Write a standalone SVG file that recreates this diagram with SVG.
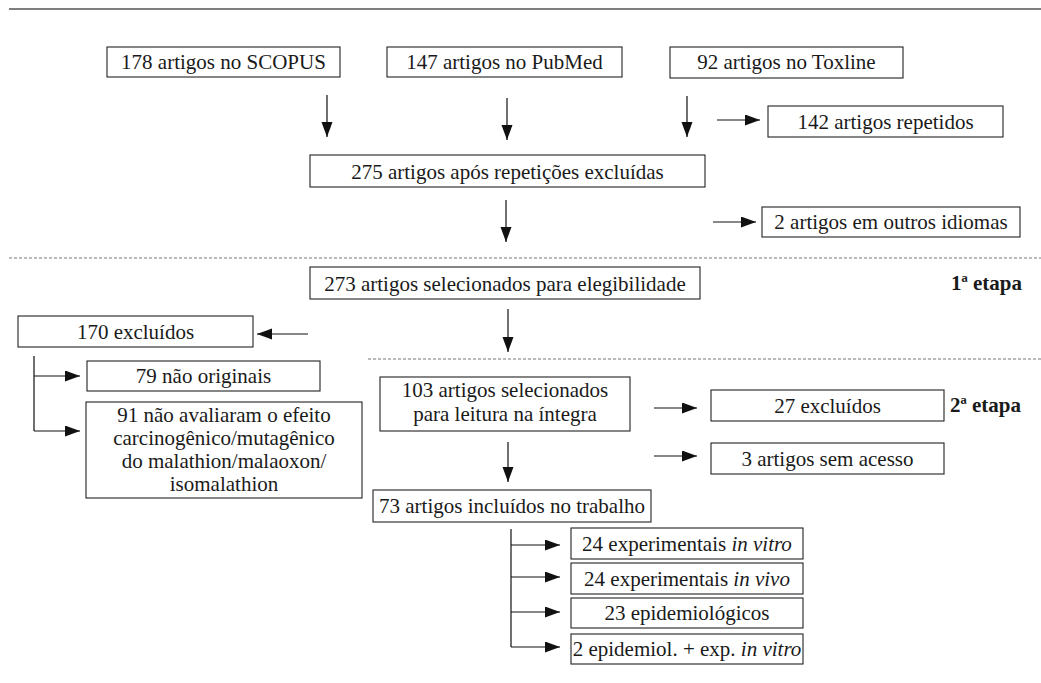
<svg xmlns="http://www.w3.org/2000/svg" width="1041" height="683" viewBox="0 0 1041 683">
<style>
.box{fill:#fff;stroke:#222;stroke-width:1.1}
.t{font-family:"Liberation Serif","Times New Roman",serif;font-size:21px;fill:#1a1a1a;text-anchor:middle}
.lbl{font-family:"Liberation Serif","Times New Roman",serif;font-size:21px;font-weight:bold;fill:#1a1a1a}
.c{stroke:#111;stroke-width:1.2;fill:none}
.ca{stroke:#111;stroke-width:1.2;fill:none;marker-end:url(#ah)}
.dash{stroke:#777;stroke-width:1;stroke-dasharray:3 2;fill:none}
</style>
<defs>
<marker id="ah" markerUnits="userSpaceOnUse" markerWidth="16" markerHeight="12" refX="15" refY="5.5" orient="auto">
<path d="M0,0 L15,5.5 L0,11 Z" fill="#111"/>
</marker>
</defs>
<rect width="1041" height="683" fill="#fff"/>
<line x1="9" y1="9" x2="1041" y2="9" stroke="#555" stroke-width="1.5"/>
<line class="dash" x1="9" y1="258" x2="1041" y2="258"/>
<line class="dash" x1="368" y1="359" x2="1041" y2="359"/>

<g id="connectors">
<line class="ca" x1="327" y1="95" x2="327" y2="137"/>
<line class="ca" x1="507" y1="98" x2="507" y2="140"/>
<line class="ca" x1="687" y1="96" x2="687" y2="137"/>
<line class="ca" x1="717" y1="120" x2="760" y2="120"/>
<line class="ca" x1="506" y1="200" x2="506" y2="242"/>
<line class="ca" x1="713" y1="222" x2="756" y2="222"/>
<line class="ca" x1="508" y1="309" x2="508" y2="352"/>
<line class="ca" x1="308" y1="334" x2="257" y2="334"/>
<polyline class="c" points="34,356 34,431"/>
<line class="ca" x1="34" y1="376" x2="80" y2="376"/>
<line class="ca" x1="34" y1="431" x2="80" y2="431"/>
<line class="ca" x1="508" y1="442" x2="508" y2="482"/>
<line class="ca" x1="654" y1="408" x2="697" y2="408"/>
<line class="ca" x1="654" y1="456" x2="697" y2="456"/>
<polyline class="c" points="511,529 511,647"/>
<line class="ca" x1="511" y1="545" x2="560" y2="545"/>
<line class="ca" x1="511" y1="577" x2="560" y2="577"/>
<line class="ca" x1="511" y1="612" x2="560" y2="612"/>
<line class="ca" x1="511" y1="647" x2="560" y2="647"/>
</g>

<g id="scopus"><rect class="box" x="107" y="47" width="233" height="30"/><text class="t" x="223.5" y="69">178 artigos no SCOPUS</text></g>
<g id="pubmed"><rect class="box" x="387" y="47" width="235" height="30"/><text class="t" x="504.5" y="69">147 artigos no PubMed</text></g>
<g id="toxline"><rect class="box" x="670" y="47" width="233" height="31"/><text class="t" x="786.5" y="69">92 artigos no Toxline</text></g>
<g id="repetidos"><rect class="box" x="768" y="106" width="235" height="31"/><text class="t" x="885.5" y="128.5">142 artigos repetidos</text></g>
<g id="n275"><rect class="box" x="310" y="155" width="395" height="32"/><text class="t" x="507.5" y="178.5">275 artigos após repetições excluídas</text></g>
<g id="idiomas"><rect class="box" x="762" y="207" width="258" height="30"/><text class="t" x="891" y="229">2 artigos em outros idiomas</text></g>
<g id="n273"><rect class="box" x="310" y="267" width="390" height="32"/><text class="t" x="505" y="290.5">273 artigos selecionados para elegibilidade</text></g>
<g id="etapa1"><text class="lbl" x="951" y="290">1ª etapa</text></g>
<g id="excl170"><rect class="box" x="18" y="316" width="235" height="31"/><text class="t" x="135.5" y="338.5">170 excluídos</text></g>
<g id="naoorig"><rect class="box" x="87" y="361" width="233" height="30"/><text class="t" x="203.5" y="383">79 não originais</text></g>
<g id="naoaval"><rect class="box" x="86" y="402" width="276" height="96"/>
<text class="t" x="224" y="422">91 não avaliaram o efeito</text>
<text class="t" x="224" y="445">carcinogênico/mutagênico</text>
<text class="t" x="224" y="468">do malathion/malaoxon/</text>
<text class="t" x="224" y="491">isomalathion</text></g>
<g id="n103"><rect class="box" x="380" y="377" width="250" height="54"/>
<text class="t" x="505" y="397">103 artigos selecionados</text>
<text class="t" x="505" y="421">para leitura na íntegra</text></g>
<g id="excl27"><rect class="box" x="711" y="390" width="233" height="31"/><text class="t" x="827.5" y="413">27 excluídos</text></g>
<g id="etapa2"><text class="lbl" x="950" y="412">2ª etapa</text></g>
<g id="semacesso"><rect class="box" x="711" y="443" width="233" height="31"/><text class="t" x="827.5" y="465.5">3 artigos sem acesso</text></g>
<g id="n73"><rect class="box" x="373" y="490" width="278" height="32"/><text class="t" x="512" y="513">73 artigos incluídos no trabalho</text></g>
<g id="vitro"><rect class="box" x="571" y="528" width="232" height="31"/><text class="t" x="687" y="551">24 experimentais <tspan font-style="italic">in vitro</tspan></text></g>
<g id="vivo"><rect class="box" x="571" y="563" width="232" height="31"/><text class="t" x="687" y="585.5">24 experimentais <tspan font-style="italic">in vivo</tspan></text></g>
<g id="epid"><rect class="box" x="571" y="598" width="232" height="30"/><text class="t" x="687" y="620">23 epidemiológicos</text></g>
<g id="epidexp"><rect class="box" x="571" y="634" width="232" height="30"/><text class="t" x="687" y="656">2 epidemiol. + exp. <tspan font-style="italic">in vitro</tspan></text></g>
</svg>
